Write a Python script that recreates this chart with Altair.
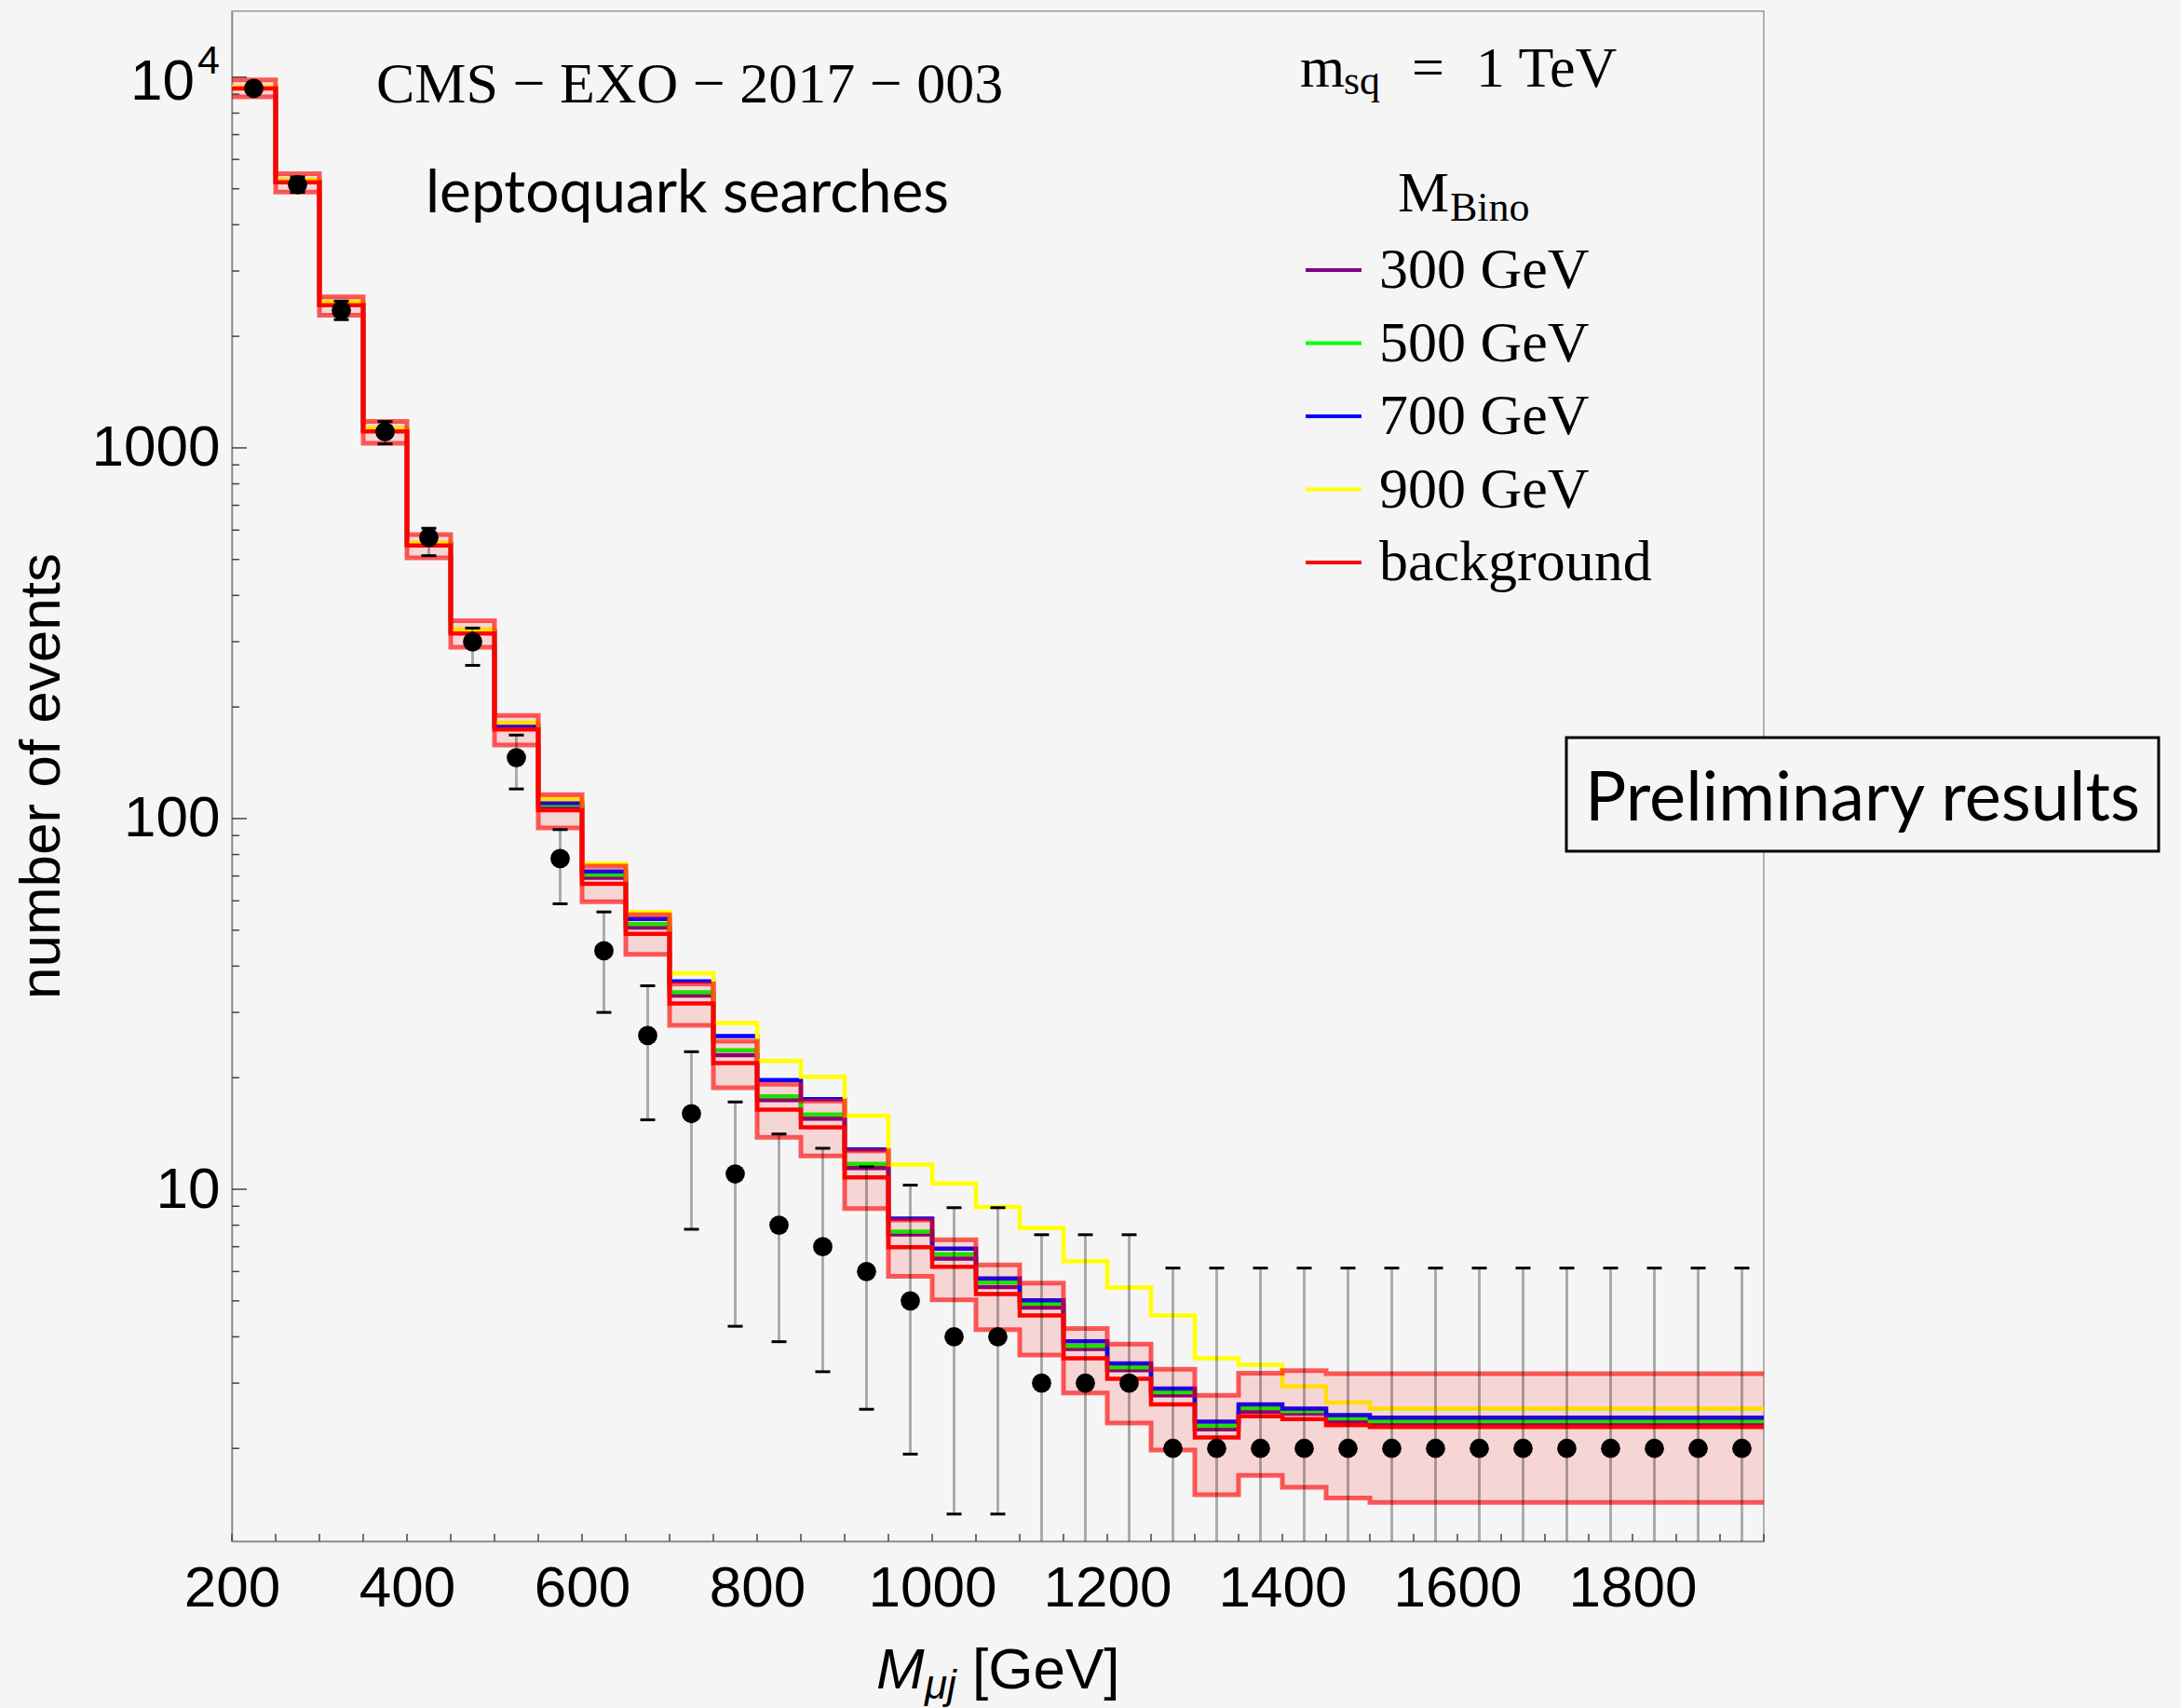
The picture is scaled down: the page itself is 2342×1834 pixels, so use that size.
import altair as alt
import pandas as pd

# ---------------- data ----------------
edges = list(range(200, 1951, 50))          # 36 bin edges, 35 bins
centers = [e + 25 for e in edges[:-1]]

data_counts = [9330, 5130, 2350, 1105, 573, 300, 146, 78, 44, 26, 16, 11, 8, 7, 6, 5, 4, 4, 3, 3, 3,
               2, 2, 2, 2, 2, 2, 2, 2, 2, 2, 2, 2, 2, 2]
err_hi = [9430, 5380, 2489, 1178, 607, 326.6, 168, 93.4, 56, 35.4, 23.5, 17.2, 14.1, 12.9, 11.5, 10.26,
          8.92, 8.92, 7.54, 7.54, 7.54,
          6.13, 6.13, 6.13, 6.13, 6.13, 6.13, 6.13, 6.13, 6.13, 6.13, 6.13, 6.13, 6.13, 6.13]
err_lo = [9230, 4890, 2218, 1025, 512, 259, 120.2, 58.9, 30.0, 15.4, 7.8, 4.27, 3.88, 3.22, 2.55, 1.93,
          1.33, 1.33, 0.8, 0.8, 0.8,
          0.8, 0.8, 0.8, 0.8, 0.8, 0.8, 0.8, 0.8, 0.8, 0.8, 0.8, 0.8, 0.8, 0.8]

background = [9330, 5207, 2427, 1108, 545.6, 315.6, 174, 105.3, 66.7, 48.9, 31.7, 21.9, 16.4, 14.7,
              10.76, 6.98, 6.18, 5.22, 4.57, 3.50, 3.08, 2.63, 2.14, 2.44, 2.40, 2.31,
              2.285, 2.285, 2.285, 2.285, 2.285, 2.285, 2.285, 2.285, 2.285]
band_hi = [9830, 5488, 2557, 1178, 583.5, 341.6, 189.7, 116, 74.4, 55, 35.8, 25.1, 19.2, 17.3, 12.7,
           8.26, 7.31, 6.25, 5.58, 4.21, 3.82, 3.27, 2.78, 3.19, 3.24, 3.18,
           3.18, 3.18, 3.18, 3.18, 3.18, 3.18, 3.18, 3.18, 3.18]
band_lo = [8857, 4898, 2278, 1029, 505, 290, 158, 94.4, 59.7, 43, 27.7, 18.8, 13.8, 12.3, 8.87,
           5.82, 5.03, 4.18, 3.57, 2.82, 2.34, 1.98, 1.50, 1.69, 1.57, 1.47,
           1.43, 1.43, 1.43, 1.43, 1.43, 1.43, 1.43, 1.43, 1.43]

m300 = [9340, 5220, 2435, 1112, 548, 318, 176, 107.4, 69.2, 50.8, 33.3, 23.0, 17.4, 15.5, 11.4, 7.55,
        6.5, 5.45, 4.8, 3.71, 3.25, 2.78, 2.25, 2.51, 2.48, 2.37,
        2.345, 2.345, 2.345, 2.345, 2.345, 2.345, 2.345, 2.345, 2.345]
m500 = [9350, 5230, 2440, 1115, 550, 319, 177, 109.1, 70.6, 51.9, 34.0, 23.7, 17.8, 15.9, 11.7, 7.69,
        6.68, 5.61, 4.91, 3.78, 3.31, 2.835, 2.30, 2.57, 2.52, 2.41,
        2.37, 2.37, 2.37, 2.37, 2.37, 2.37, 2.37, 2.37, 2.37]
m700 = [9360, 5240, 2450, 1118, 551, 320, 178, 110.2, 72.0, 53.6, 36.4, 25.9, 19.7, 17.5, 12.8, 8.34,
        6.92, 5.75, 5.02, 3.89, 3.39, 2.90, 2.36, 2.63, 2.56, 2.46,
        2.42, 2.42, 2.42, 2.42, 2.42, 2.42, 2.42, 2.42, 2.42]
m900 = [9400, 5290, 2480, 1130, 556, 324, 181.5, 112.7, 75.5, 56, 38.3, 28.1, 22.2, 20.1, 15.8, 11.65,
        10.37, 8.96, 7.87, 6.4, 5.43, 4.57, 3.50, 3.36, 2.94, 2.66,
        2.56, 2.56, 2.56, 2.56, 2.56, 2.56, 2.56, 2.56, 2.56]

series_names = ["300 GeV", "500 GeV", "700 GeV", "900 GeV", "background"]
series_colors = ["#800080", "#00FF00", "#0000FF", "#FFFF00", "#FF0000"]
series_values = [m300, m500, m700, m900, background]

x_labels = [200, 400, 600, 800, 1000, 1200, 1400, 1600, 1800]
x_ticks = list(range(200, 1951, 50))
y_major = [10, 100, 1000, 10000]
y_minor = [m * d for d in (1, 10, 100, 1000) for m in range(2, 10)]

# ---------------- tables ----------------
def steps(vals):
    return list(zip(edges, list(vals) + [vals[-1]]))

rows = []
for name, vals in zip(series_names, series_values):
    for i, (x, y) in enumerate(steps(vals)):
        rows.append({"series": name, "x": x, "y": y, "i": i})
lines_df = pd.DataFrame(rows)

band_df = pd.DataFrame({"x": edges, "hi": band_hi + [band_hi[-1]], "lo": band_lo + [band_lo[-1]]})
edge_rows = []
for nm, vals in (("hi", band_hi), ("lo", band_lo)):
    for i, (x, y) in enumerate(steps(vals)):
        edge_rows.append({"edge": nm, "x": x, "y": y, "i": i})
band_edges_df = pd.DataFrame(edge_rows)

pts_df = pd.DataFrame({"x": centers, "y": data_counts, "hi": err_hi, "lo": err_lo})
dummy = pd.DataFrame({"a": [0]})

# ---------------- layout ----------------
W, H = 1645, 1643
BG = "#F5F5F5"
SANS = "Liberation Sans"
SERIF = "Liberation Serif"
GILL = "Lato"

xscale = alt.Scale(domain=[200, 1950], nice=False, zero=False)
yscale = alt.Scale(type="log", domain=[1.123, 15070], nice=False)
xaxis = alt.Axis(values=x_labels, title=None, grid=False, ticks=False, tickSize=0, labelPadding=20,
                 labelFont=SANS, labelFontSize=62, labelColor="black", domainColor="#888888",
                 domainWidth=1.5, labelFlush=False, labelOverlap=False, format="d")
yaxis = alt.Axis(values=y_major, title=None, grid=False, ticks=False, tickSize=0, labelPadding=13,
                 labelFont=SANS, labelFontSize=62, labelColor="black", domainColor="#888888",
                 domainWidth=1.5, labelOverlap=False,
                 labelExpr="datum.value >= 10000 ? '' : format(datum.value, 'd')")


def X(field):
    return alt.X(field, type="quantitative", scale=xscale, axis=xaxis)


def Y(field):
    return alt.Y(field, type="quantitative", scale=yscale, axis=yaxis)


legend = alt.Legend(orient="none", legendX=1151, legendY=246, title=None, symbolType="stroke",
                    symbolSize=3600, symbolStrokeWidth=4, labelFont=SERIF, labelFontSize=62,
                    labelColor="black", labelOffset=17, rowPadding=15.5, padding=0, labelLimit=1000)

lines = alt.Chart(lines_df).mark_line(interpolate="step-after", strokeWidth=4.5).encode(
    x=X("x"), y=Y("y"),
    color=alt.Color("series:N", scale=alt.Scale(domain=series_names, range=series_colors), legend=legend),
    order="i:Q",
)

band = alt.Chart(band_df).mark_area(interpolate="step-after", color="#FF0000", opacity=0.13).encode(
    x=X("x"), y=Y("hi"), y2="lo"
)

band_lines = alt.Chart(band_edges_df).mark_line(
    interpolate="step-after", color="#FF0000", opacity=0.63, strokeWidth=5
).encode(x=X("x"), y=Y("y"), detail="edge:N", order="i:Q")

err = alt.Chart(pts_df).mark_rule(color="black", opacity=0.3, strokeWidth=3, clip=True).encode(
    x=X("x"), y=Y("hi"), y2="lo"
)
cap_hi = alt.Chart(pts_df).mark_tick(orient="horizontal", size=16, thickness=3, color="black",
                                     opacity=1, clip=True).encode(x=X("x"), y=Y("hi"))
cap_lo = alt.Chart(pts_df).mark_tick(orient="horizontal", size=16, thickness=3, color="black",
                                     opacity=1, clip=True).encode(x=X("x"), y=Y("lo"))
points = alt.Chart(pts_df).mark_circle(size=430, color="black", opacity=1).encode(x=X("x"), y=Y("y"))

yticks_minor = alt.Chart(pd.DataFrame({"v": y_minor})).mark_rule(color="#444444", strokeWidth=1.5).encode(
    y=Y("v"), x=alt.value(0), x2=alt.value(8)
)
yticks_major = alt.Chart(pd.DataFrame({"v": y_major})).mark_rule(color="#444444", strokeWidth=1.5).encode(
    y=Y("v"), x=alt.value(0), x2=alt.value(16)
)
xticks = alt.Chart(pd.DataFrame({"v": x_ticks})).mark_rule(color="#444444", strokeWidth=1.5).encode(
    x=X("v"), y=alt.value(H), y2=alt.value(H - 8)
)


def label(text, x, y, size, font, align="left", baseline="alphabetic", style="normal", angle=0):
    return alt.Chart(dummy).mark_text(
        text=text, align=align, baseline=baseline, font=font, fontSize=size, fontStyle=style,
        angle=angle, color="black"
    ).encode(x=alt.value(x), y=alt.value(y))


texts = [
    label("10", -40, 95, 62, SANS, align="right"),
    label("4", -37, 67, 43, SANS),
    label("CMS − EXO − 2017 − 003", 155, 98, 62, SERIF),
    label("leptoquark searches", 208, 216, 64, GILL),
    label("m", 1147, 81, 62, SERIF),
    label("sq", 1194, 89, 44, SERIF),
    label("=", 1267, 81, 62, SERIF),
    label("1 TeV", 1336, 81, 62, SERIF),
    label("M", 1252, 215, 62, SERIF),
    label("Bino", 1308, 225, 44, SERIF),
    label("number of events", -185, 821.5, 62, SANS, align="center", angle=270),
    label("M", 692, 1801, 62, SANS, style="italic"),
    label("μj", 744, 1812, 44, SANS, style="italic"),
    label("[GeV]", 795, 1801, 62, SANS),
]

prelim_box = alt.Chart(dummy).mark_rect(fill=BG, stroke="black", strokeWidth=3).encode(
    x=alt.value(1433), x2=alt.value(2069), y=alt.value(780), y2=alt.value(902)
)
prelim_text = label("Preliminary results", 1751, 869, 74, GILL, align="center")

chart = alt.layer(
    lines, band, band_lines, err, cap_hi, cap_lo, points,
    yticks_minor, yticks_major, xticks,
    *texts, prelim_box, prelim_text
).properties(
    width=W, height=H,
    autosize="none",
    padding={"left": 249, "top": 12, "right": 2342 - 249 - W, "bottom": 1834 - 12 - H},
).configure(background=BG).configure_view(stroke="#999999", strokeWidth=1.5, fill=BG)

chart.save("out.html", embed_options={"renderer": "svg", "actions": False})
